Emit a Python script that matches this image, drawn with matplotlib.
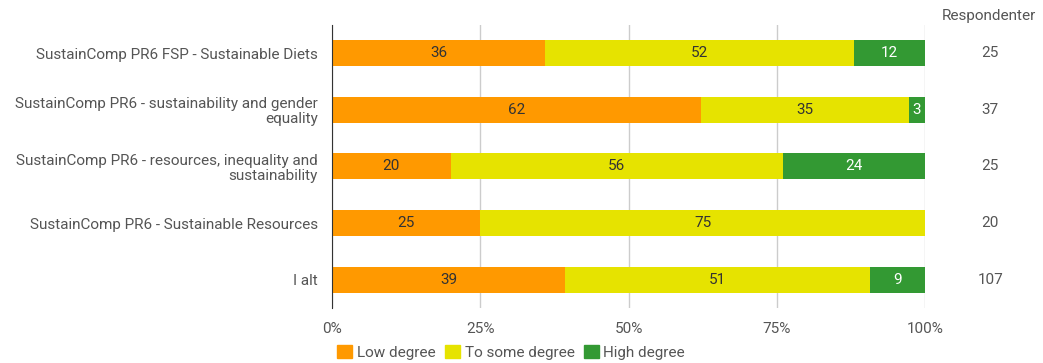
import matplotlib.pyplot as plt
from matplotlib.patches import Patch

plt.rcParams['font.family'] = ['Roboto', 'DejaVu Sans']

# data: number of respondents per answer
courses = ['SustainComp PR6 FSP - Sustainable Diets',
           'SustainComp PR6 - sustainability and gender\nequality',
           'SustainComp PR6 - resources, inequality and\nsustainability',
           'SustainComp PR6 - Sustainable Resources',
           'I alt']
low = [9, 23, 5, 5, 42]
some = [13, 13, 14, 15, 55]
high = [3, 1, 6, 0, 10]
respondents = [25, 37, 25, 20, 107]
series = ['Low degree', 'To some degree', 'High degree']
colors = ['#ff9900', '#e6e300', '#339933']
txt_colors = ['#333333', '#333333', '#ffffff']

fig = plt.figure(figsize=(10.43, 3.63), dpi=100)
ax = fig.add_axes([0.3183, 0.1515, 0.5686, 0.78])

y = list(range(len(courses)))
left = [0.0] * len(courses)
for vals, col, tc, name in zip([low, some, high], colors, txt_colors, series):
    pct = [v / n * 100 for v, n in zip(vals, respondents)]
    bars = ax.barh(y, pct, left=left, height=0.46, color=col, label=name, zorder=2)
    for b, p in zip(bars, pct):
        if p > 0:
            ax.text(b.get_x() + b.get_width() / 2, b.get_y() + b.get_height() / 2,
                    f'{p:.0f}', ha='center', va='center', fontsize=11, color=tc, zorder=3)
    left = [l + p for l, p in zip(left, pct)]

ax.set_xlim(0, 100)
ax.set_ylim(len(courses) - 0.5, -0.5)
ax.set_yticks(y)
ax.set_yticklabels(courses, fontsize=11, color='#555555', linespacing=1.1)
ax.set_xticks([0, 25, 50, 75, 100])
ax.set_xticklabels(['0%', '25%', '50%', '75%', '100%'], fontsize=11, color='#555555')
ax.tick_params(length=0, pad=10)
ax.tick_params(axis='x', pad=10)
ax.grid(axis='x', color='#cccccc', linewidth=1, zorder=0)
for s in ['top', 'right', 'bottom']:
    ax.spines[s].set_visible(False)
ax.spines['left'].set_color('#333333')

# respondents column
for yi, n in zip(y, respondents):
    ax.text(1.11, yi, str(n), transform=ax.get_yaxis_transform(),
            ha='center', va='center', fontsize=11, color='#555555')
fig.text(0.948, 0.955, 'Respondenter', ha='center', va='center', fontsize=11, color='#555555')

handles = [Patch(color=c) for c in colors]
fig.legend(handles, series, loc='center left', bbox_to_anchor=(0.31, 0.03), ncol=3,
           frameon=False, fontsize=11, handlelength=1.0, handleheight=1.0,
           handletextpad=0.3, columnspacing=0.6, labelcolor='#555555')

fig.savefig('out.png', dpi=100)
